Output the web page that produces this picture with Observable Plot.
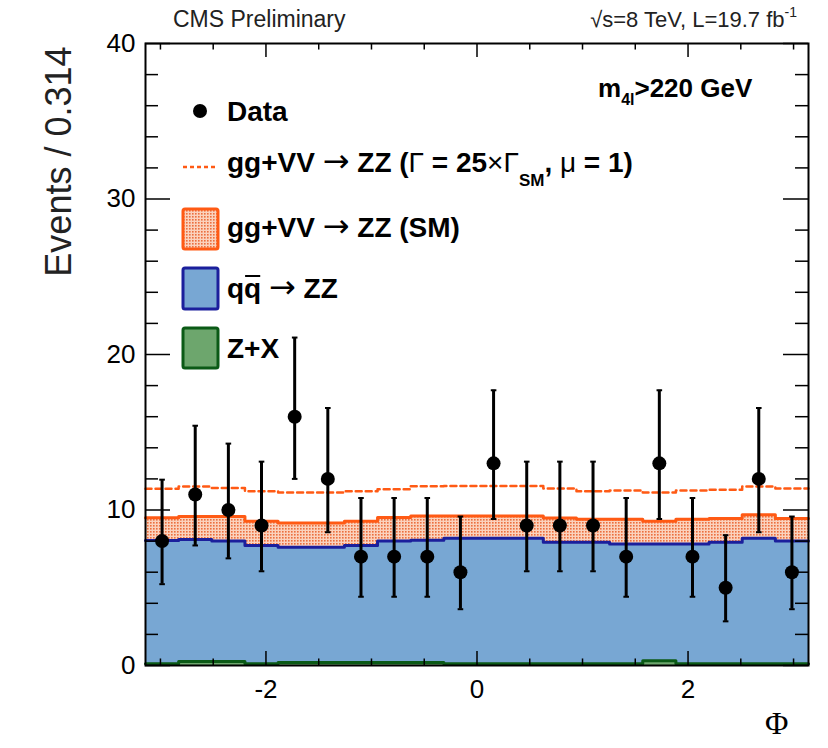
<!DOCTYPE html>
<html><head><meta charset="utf-8">
<script src="https://cdn.jsdelivr.net/npm/d3@7"></script>
<script src="https://cdn.jsdelivr.net/npm/@observablehq/plot@0.6"></script>
<style>
body{margin:0;background:#fff;}
#chart{position:relative;width:828px;height:748px;}
</style></head><body><div id="chart"></div>
<script>
// ---- data ----
const phiMin = -Math.PI, phiMax = Math.PI, nBins = 20;
const dataCounts = [8, 11, 10, 9, 16, 12, 7, 7, 7, 6, 13, 9, 9, 9, 7, 13, 7, 5, 12, 6];
const dataLow  = [5.23, 7.72, 6.89, 6.06, 12.0, 8.57, 4.42, 4.42, 4.42, 3.62, 9.42, 6.06, 6.06, 6.06, 4.42, 9.42, 4.42, 2.84, 8.57, 3.62];
const dataHigh = [11.95, 15.42, 14.27, 13.11, 21.09, 16.56, 10.77, 10.77, 10.77, 9.58, 17.70, 13.11, 13.11, 13.11, 10.77, 17.70, 10.77, 8.38, 16.56, 9.58];
const zxYield  = [0.12, 0.25, 0.25, 0.12, 0.2, 0.2, 0.2, 0.2, 0.2, 0.12, 0.12, 0.12, 0.12, 0.12, 0.12, 0.3, 0.12, 0.12, 0.12, 0.12];
const qqYield  = [7.92, 7.85, 7.75, 7.6, 7.41, 7.41, 7.52, 7.8, 7.86, 8.07, 8.07, 8.07, 7.81, 7.81, 7.7, 7.52, 7.7, 7.81, 8.07, 7.88];
const ggSMYield = [1.46, 1.48, 1.58, 1.56, 1.56, 1.56, 1.56, 1.52, 1.56, 1.43, 1.43, 1.43, 1.56, 1.48, 1.59, 1.46, 1.59, 1.52, 1.5, 1.45];
const gg25Total = [11.36, 11.51, 11.42, 11.21, 11.12, 11.12, 11.21, 11.34, 11.53, 11.55, 11.55, 11.55, 11.38, 11.21, 11.25, 11.12, 11.25, 11.3, 11.51, 11.38];
const xMajorTicks = [-2, 0, 2];
const xMinorTicks = [-3, -2.5, -1.5, -1, -0.5, 0.5, 1, 1.5, 2.5, 3];
const yMajorTicks = [0, 10, 20, 30, 40];
const yMinorTicks = [2, 4, 6, 8, 12, 14, 16, 18, 22, 24, 26, 28, 32, 34, 36, 38];

// ---- styles ----
const blueFill = "#78a7d3", blueLine = "#1b1f9c";
const orangeLine = "#ff5a14";
const greenFill = "#6da66d", greenLine = "#0b5a16";
const sans = "'Liberation Sans', Arial, Helvetica, sans-serif";
const arrowFont = "'DejaVu Sans', sans-serif";

// ---- derived tables ----
const binWidth = (phiMax - phiMin) / nBins;
const edges = d3.range(nBins + 1).map(i => phiMin + i * binWidth);
const centers = d3.range(nBins).map(i => phiMin + (i + 0.5) * binWidth);
const base = new Array(nBins).fill(0);
function stackOf(values) {
  return values.map((v, i) => { const r = {x1: edges[i], x2: edges[i + 1], y1: base[i], y2: base[i] + v}; base[i] += v; return r; });
}
const zxRows = stackOf(zxYield), qqRows = stackOf(qqYield), ggRows = stackOf(ggSMYield);
const stepPts = (tops) => [...tops.map((t, i) => ({x: edges[i], y: t})), {x: edges[nBins], y: tops[nBins - 1]}];
const dataRows = dataCounts.map((n, i) => ({x: centers[i], n, lo: dataLow[i], hi: dataHigh[i]}));

const capSymbol = {draw(ctx, size) { const r = Math.sqrt(size / Math.PI); ctx.moveTo(-r, 0); ctx.lineTo(r, 0); }};

// tick lengths (in data units)
const xMajLen = 0.9, xMinLen = 0.42, yMajLen = 0.237, yMinLen = 0.123;

const plot = Plot.plot({
  width: 828, height: 748,
  marginLeft: 145, marginRight: 20, marginTop: 43, marginBottom: 83,
  x: {domain: [phiMin, phiMax], label: null},
  y: {domain: [0, 40], label: null},
  style: {fontFamily: sans, fontSize: "26px", color: "#000", background: "#fff", overflow: "visible"},
  marks: [
    Plot.rect(zxRows, {x1: "x1", x2: "x2", y1: "y1", y2: "y2", fill: greenFill, shapeRendering: "crispEdges"}),
    Plot.rect(qqRows, {x1: "x1", x2: "x2", y1: "y1", y2: "y2", fill: blueFill, shapeRendering: "crispEdges"}),
    Plot.rect(ggRows, {x1: "x1", x2: "x2", y1: "y1", y2: "y2", fill: "url(#ggPattern)", shapeRendering: "crispEdges"}),
    Plot.line(stepPts(ggRows.map(r => r.y2)), {x: "x", y: "y", curve: "step-after", stroke: orangeLine, strokeWidth: 3}),
    Plot.line(stepPts(qqRows.map(r => r.y2)), {x: "x", y: "y", curve: "step-after", stroke: blueLine, strokeWidth: 3}),
    Plot.line(stepPts(zxRows.map(r => r.y2)), {x: "x", y: "y", curve: "step-after", stroke: greenLine, strokeWidth: 3}),
    Plot.line(stepPts(gg25Total), {x: "x", y: "y", curve: "step-after", stroke: orangeLine, strokeWidth: 2.5, strokeDasharray: "6 4"}),
    // inward ticks: bottom / top
    Plot.ruleX(xMajorTicks, {x: d => d, y1: 0, y2: xMajLen, stroke: "#000", strokeWidth: 1.5}),
    Plot.ruleX(xMinorTicks, {x: d => d, y1: 0, y2: xMinLen, stroke: "#000", strokeWidth: 1.5}),
    Plot.ruleX(xMajorTicks, {x: d => d, y1: 40, y2: 40 - xMajLen, stroke: "#000", strokeWidth: 1.5}),
    Plot.ruleX(xMinorTicks, {x: d => d, y1: 40, y2: 40 - xMinLen, stroke: "#000", strokeWidth: 1.5}),
    // inward ticks: left / right
    Plot.ruleY(yMajorTicks, {y: d => d, x1: phiMin, x2: phiMin + yMajLen, stroke: "#000", strokeWidth: 1.5}),
    Plot.ruleY(yMinorTicks, {y: d => d, x1: phiMin, x2: phiMin + yMinLen, stroke: "#000", strokeWidth: 1.5}),
    Plot.ruleY(yMajorTicks, {y: d => d, x1: phiMax, x2: phiMax - yMajLen, stroke: "#000", strokeWidth: 1.5}),
    Plot.ruleY(yMinorTicks, {y: d => d, x1: phiMax, x2: phiMax - yMinLen, stroke: "#000", strokeWidth: 1.5}),
    Plot.axisX({ticks: xMajorTicks, tickSize: 0, tickPadding: 14, tickFormat: d => String(d), label: null, fontSize: 26}),
    Plot.axisY({ticks: yMajorTicks, tickSize: 0, tickPadding: 10, tickFormat: d => String(d), label: null, fontSize: 26}),
    // data with error bars
    Plot.ruleX(dataRows, {x: "x", y1: "lo", y2: "hi", stroke: "#000", strokeWidth: 3}),
    Plot.dot(dataRows, {x: "x", y: "lo", symbol: capSymbol, r: 2.8, stroke: "#000", strokeWidth: 2}),
    Plot.dot(dataRows, {x: "x", y: "hi", symbol: capSymbol, r: 2.8, stroke: "#000", strokeWidth: 2}),
    Plot.dot(dataRows, {x: "x", y: "n", r: 7, fill: "#000", stroke: "none"}),
    Plot.frame({stroke: "#000", strokeWidth: 2}),
    Plot.text(["Events / 0.314"], {frameAnchor: "top-left", rotate: -90, textAnchor: "end", dx: -100, dy: 3, fontSize: 36, fill: "#222"}),
    Plot.text(["Φ"], {frameAnchor: "bottom-right", dx: -20, dy: 68, fontSize: 32, fontFamily: "'Liberation Serif', 'DejaVu Serif', serif"})
  ]
});

document.getElementById("chart").appendChild(plot);

// ---- pattern, annotations and legend ----
const svg = d3.select(plot);
const defs = svg.insert("defs", ":first-child");
const pat = defs.append("pattern").attr("id", "ggPattern").attr("width", 3).attr("height", 3).attr("patternUnits", "userSpaceOnUse");
pat.append("rect").attr("width", 3).attr("height", 3).attr("fill", "#fbd2bd");
pat.append("rect").attr("width", 1.6).attr("height", 1.6).attr("fill", "#ec6f3e");

const g = svg.append("g").attr("font-family", sans).attr("fill", "#000").attr("text-anchor", "start");
g.append("text").attr("x", 173).attr("y", 27).attr("font-size", 23).attr("fill", "#222").text("CMS Preliminary");
const tr = g.append("text").attr("x", 797).attr("y", 27).attr("font-size", 22).attr("text-anchor", "end").attr("fill", "#222");
tr.append("tspan").text("√s=8 TeV, L=19.7 fb");
tr.append("tspan").attr("font-size", 14).attr("dy", -10).text("-1");

const m4 = g.append("text").attr("x", 598).attr("y", 97).attr("font-size", 26).attr("font-weight", "bold");
m4.append("tspan").text("m");
m4.append("tspan").attr("font-size", 16).attr("dy", 8).text("4l");
m4.append("tspan").attr("dy", -8).text(">220 GeV");

const leg = g.append("g").attr("font-size", 28).attr("font-weight", "bold");
leg.append("circle").attr("cx", 200).attr("cy", 111).attr("r", 7).attr("fill", "#000");
leg.append("text").attr("x", 227).attr("y", 121).text("Data");

leg.append("line").attr("x1", 183).attr("x2", 218).attr("y1", 167).attr("y2", 167)
  .attr("stroke", orangeLine).attr("stroke-width", 2.5).attr("stroke-dasharray", "4 3");
const t2 = leg.append("text").attr("x", 227).attr("y", 172);
t2.append("tspan").text("gg+VV ");
t2.append("tspan").attr("font-weight", "normal").attr("font-family", arrowFont).attr("font-size", 32).text("→");
t2.append("tspan").text(" ZZ (");
t2.append("tspan").attr("font-weight", "normal").text("Γ");
t2.append("tspan").text(" = 25");
t2.append("tspan").attr("font-weight", "normal").text("×Γ");
t2.append("tspan").attr("font-size", 17).attr("dy", 14).text("SM");
t2.append("tspan").attr("dy", -14).text(", ");
t2.append("tspan").attr("font-weight", "normal").text("μ");
t2.append("tspan").text(" = 1)");

leg.append("rect").attr("x", 183).attr("y", 209).attr("width", 35).attr("height", 40).attr("rx", 2)
  .attr("fill", "url(#ggPattern)").attr("stroke", orangeLine).attr("stroke-width", 3);
const t3 = leg.append("text").attr("x", 227).attr("y", 237);
t3.append("tspan").text("gg+VV ");
t3.append("tspan").attr("font-weight", "normal").attr("font-family", arrowFont).attr("font-size", 32).text("→");
t3.append("tspan").text(" ZZ (SM)");

leg.append("rect").attr("x", 183).attr("y", 268).attr("width", 35).attr("height", 41).attr("rx", 2)
  .attr("fill", blueFill).attr("stroke", blueLine).attr("stroke-width", 3);
const t4 = leg.append("text").attr("x", 227).attr("y", 298);
t4.append("tspan").text("qq ");
t4.append("tspan").attr("font-weight", "normal").attr("font-family", arrowFont).attr("font-size", 32).text("→");
t4.append("tspan").text(" ZZ");
try {
  const node = t4.node();
  const p = node.getStartPositionOfChar(1);
  const w = node.getSubStringLength(1, 1);
  leg.append("line").attr("x1", p.x + 1).attr("x2", p.x + w - 1).attr("y1", 276).attr("y2", 276)
    .attr("stroke", "#000").attr("stroke-width", 2);
} catch (e) {}

leg.append("rect").attr("x", 183).attr("y", 328).attr("width", 35).attr("height", 40).attr("rx", 2)
  .attr("fill", greenFill).attr("stroke", greenLine).attr("stroke-width", 3);
leg.append("text").attr("x", 227).attr("y", 358).text("Z+X");
</script></body></html>
